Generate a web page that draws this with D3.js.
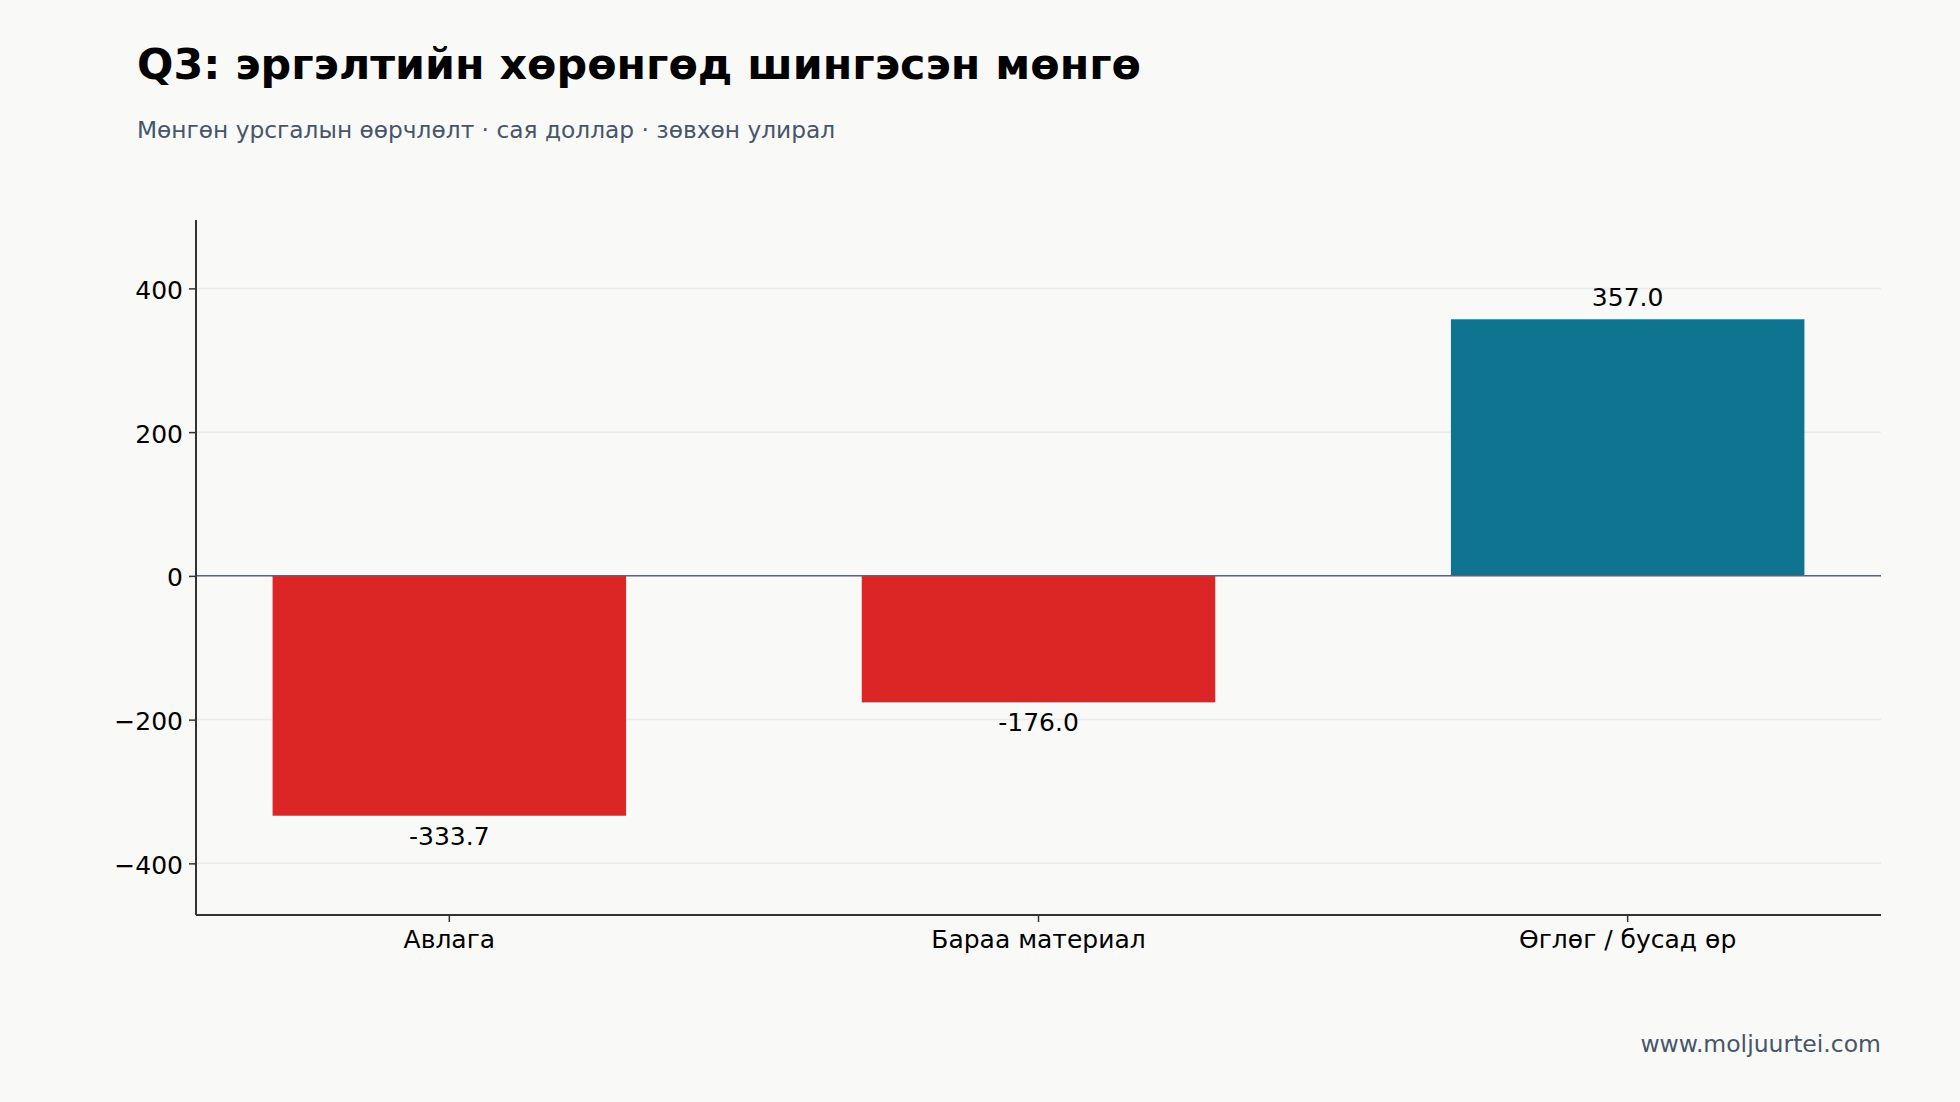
<!DOCTYPE html>
<html>
<head>
<meta charset="utf-8">
<script src="https://cdn.jsdelivr.net/npm/d3@7"></script>
<style>
  html, body { margin: 0; padding: 0; background: #f9f9f8; }
  text { font-family: "DejaVu Sans", sans-serif; }
</style>
</head>
<body>
<div id="chart"></div>
<script>
var W = 1960,
H = 1102;

// data
var categories = ["Авлага", "Бараа материал", "Өглөг / бусад өр"];
var values = [-333.7, -176.0, 357.0];
var yTicks = [-400, -200, 0, 200, 400];

var title = "Q3: эргэлтийн хөрөнгөд шингэсэн мөнгө";
var subtitle = "Мөнгөн урсгалын өөрчлөлт · сая доллар · зөвхөн улирал";
var source = "www.moljuurtei.com";

// plot box (note: "top" is taken by window.top)
var mLeft = 196, mRight = 1881, mTop = 220, mBottom = 915;
var RED = "#dc2626", TEAL = "#0f7490";

var svg = d3.select("#chart").append("svg")
	.attr("width", W)
	.attr("height", H)
	.attr("viewBox", "0 0 " + W + " " + H);

svg.append("rect").attr("width", W).attr("height", H).attr("fill", "#f9f9f8");

var lo = d3.min(values), hi = d3.max(values);
var pad = 0.2 * (hi - lo);

var x = d3.scaleBand()
	.domain(categories)
	.range([mLeft, mRight])
	.paddingInner(0.4)
	.paddingOuter(0.13);

var y = d3.scaleLinear()
	.domain([lo - pad, hi + pad])
	.range([mBottom, mTop]);

// grid
svg.append("g").selectAll("line")
	.data(yTicks)
	.enter().append("line")
	.attr("x1", mLeft).attr("x2", mRight)
	.attr("y1", function(d) { return y(d); })
	.attr("y2", function(d) { return y(d); })
	.attr("stroke", "#ebebeb")
	.attr("stroke-width", 1.5);

// bars
svg.append("g").selectAll("rect")
	.data(values)
	.enter().append("rect")
	.attr("x", function(d, i) { return x(categories[i]); })
	.attr("width", x.bandwidth())
	.attr("y", function(d) { return y(Math.max(0, d)); })
	.attr("height", function(d) { return Math.abs(y(d) - y(0)); })
	.attr("fill", function(d) { return d < 0 ? RED : TEAL; });

// zero line
svg.append("line")
	.attr("x1", mLeft).attr("x2", mRight)
	.attr("y1", y(0)).attr("y2", y(0))
	.attr("stroke", "#56657a")
	.attr("stroke-width", 1.5);

// value labels
svg.append("g").selectAll("text")
	.data(values)
	.enter().append("text")
	.attr("x", function(d, i) { return x(categories[i]) + x.bandwidth() / 2; })
	.attr("y", function(d) { return d < 0 ? y(d) + 29 : y(d) - 13; })
	.attr("text-anchor", "middle")
	.attr("font-size", "25px")
	.attr("fill", "#000")
	.text(function(d) { return d.toFixed(1); });

// axes
var yAxis = d3.axisLeft(y)
	.tickValues(yTicks)
	.tickSize(7)
	.tickPadding(6)
	.tickFormat(function(d) { return d < 0 ? "\u2212" + Math.abs(d) : d; });

var gy = svg.append("g")
	.attr("transform", "translate(" + mLeft + ",0)")
	.call(yAxis);
gy.select(".domain").attr("d", "M0," + mTop + "V" + mBottom);

var xAxis = d3.axisBottom(x)
	.tickSize(7)
	.tickPadding(8);

var gx = svg.append("g")
	.attr("transform", "translate(0," + mBottom + ")")
	.call(xAxis);
gx.select(".domain").attr("d", "M" + mLeft + ",0H" + mRight);

svg.selectAll(".domain").attr("stroke", "#333").attr("stroke-width", 2);
svg.selectAll(".tick line").attr("stroke", "#333").attr("stroke-width", 1.5);
svg.selectAll(".tick text")
	.attr("font-family", "DejaVu Sans, sans-serif")
	.attr("font-size", "25px")
	.attr("fill", "#000");
gy.selectAll(".tick text").attr("dy", "0.4em");

// titles
svg.append("text")
	.attr("x", 137).attr("y", 79)
	.attr("font-size", "42.8px")
	.attr("font-weight", "bold")
	.attr("fill", "#000")
	.text(title);

svg.append("text")
	.attr("x", 137).attr("y", 138)
	.attr("font-size", "23.3px")
	.attr("fill", "#475569")
	.text(subtitle);

svg.append("text")
	.attr("x", mRight).attr("y", 1052)
	.attr("text-anchor", "end")
	.attr("font-size", "23.5px")
	.attr("fill", "#475569")
	.text(source);
</script>
</body>
</html>
